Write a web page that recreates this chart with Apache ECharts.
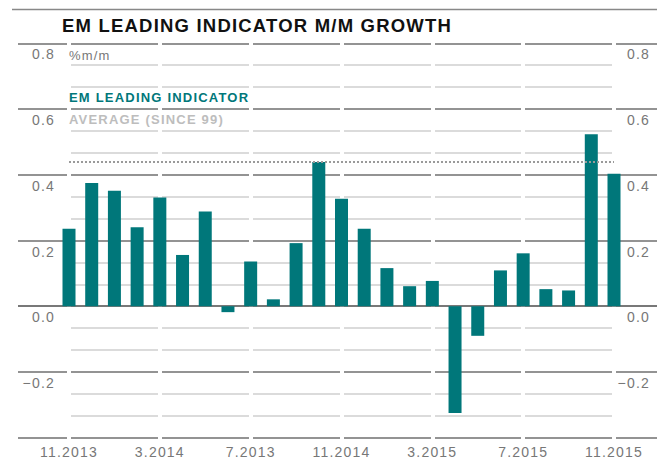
<!DOCTYPE html>
<html>
<head>
<meta charset="utf-8">
<script src="https://cdn.jsdelivr.net/npm/echarts@6/dist/echarts.min.js"></script>
<style>
  html, body { margin: 0; background: #fff; }
  #chart { width: 665px; height: 460px; }
  /* svg renderer, so the spaced-out caps can come from css */
  #chart text { letter-spacing: 1.2px; }
</style>
</head>
<body>
<div id="chart"></div>
<script>
const categories = [
  '11.2013', '12.2013',
  '1.2014', '2.2014', '3.2014', '4.2014', '5.2014', '6.2014',
  '7.2014', '8.2014', '9.2014', '10.2014', '11.2014', '12.2014',
  '1.2015', '2.2015', '3.2015', '4.2015', '5.2015', '6.2015',
  '7.2015', '8.2015', '9.2015', '10.2015', '11.2015'
];
const growth = [
  0.236, 0.375, 0.351, 0.240, 0.331, 0.156, 0.288, -0.018, 0.136, 0.021,
  0.192, 0.439, 0.327, 0.236, 0.116, 0.061, 0.077, -0.325, -0.090, 0.109,
  0.161, 0.052, 0.048, 0.523, 0.403
];
// labels as printed on the original (its third one says 7.2013)
const tickLabels = ['11.2013', '3.2014', '7.2013', '11.2014', '3.2015', '7.2015', '11.2015'];
const average = 0.441;
const yTicks = [-0.4, 0.8, 0.2];

const FONT = '"Liberation Sans", Arial, sans-serif';
const TEAL = '#00777a';
const GREY = '#777';

const chart = echarts.init(document.getElementById('chart'), null, { renderer: 'svg' });

function yLabel(v) {
  if (v < -0.35) return '';
  return v.toFixed(1).replace('-', '\u2212');
}

// white breaks in the gridlines under every fourth month
const gapLines = categories
  .filter((_, i) => i % 4 === 0)
  .map((c) => ({ xAxis: c }));

const quiet = { symbol: 'none', silent: true, label: { show: false }, emphasis: { disabled: true }, animation: false };

chart.setOption({
  animation: false,
  backgroundColor: '#fff',
  textStyle: { fontFamily: FONT },
  grid: [
    { left: 18, right: 8, top: 43.3, bottom: 22.3, outerBoundsMode: 'none' },
    { left: 69, right: 51, top: 43.3, bottom: 22.3, outerBoundsMode: 'none' }
  ],
  xAxis: [
    { gridIndex: 0, type: 'value', min: 0, max: 1, show: false },
    {
      gridIndex: 1,
      type: 'category',
      data: categories,
      boundaryGap: false,
      axisLine: { show: false },
      axisTick: { show: false },
      splitLine: { show: false },
      axisLabel: {
        interval: 3,
        margin: 7,
        color: GREY,
        fontSize: 14,
        fontFamily: FONT,
        formatter: (value, idx) => tickLabels[idx / 4]
      }
    }
  ],
  yAxis: [
    {
      gridIndex: 0,
      type: 'value',
      min: yTicks[0], max: yTicks[1], interval: yTicks[2],
      position: 'left',
      axisLine: { show: false },
      axisTick: { show: false },
      splitLine: { lineStyle: { color: '#6f6f6f', width: 1.5 } },
      axisLabel: {
        inside: true, margin: 37, align: 'right', verticalAlign: 'top',
        padding: [4, 0, 0, 0], color: GREY, fontSize: 14, fontFamily: FONT,
        formatter: yLabel
      }
    },
    {
      gridIndex: 0,
      type: 'value',
      min: yTicks[0], max: yTicks[1], interval: yTicks[2],
      position: 'right',
      axisLine: { show: false },
      axisTick: { show: false },
      splitLine: { show: false },
      axisLabel: {
        inside: true, margin: 7, align: 'right', verticalAlign: 'top',
        padding: [4, 0, 0, 0], color: GREY, fontSize: 14, fontFamily: FONT,
        formatter: yLabel
      }
    },
    { gridIndex: 1, type: 'value', min: yTicks[0], max: yTicks[1], show: false },
    {
      // thirds between the labelled lines
      gridIndex: 1,
      type: 'value',
      min: 0, max: 18, interval: 1,
      position: 'right',
      axisLine: { show: false },
      axisTick: { show: false },
      axisLabel: { show: false },
      splitLine: { lineStyle: { color: ['rgba(0,0,0,0)', '#cfcfcf', '#cfcfcf'], width: 1.5 } }
    }
  ],
  series: [
    {
      type: 'line', xAxisIndex: 1, yAxisIndex: 2, data: [], z: 1,
      markLine: { ...quiet, z: 1, data: gapLines, lineStyle: { color: '#fff', width: 4, type: 'solid', cap: 'square' } }
    },
    {
      type: 'line', xAxisIndex: 0, yAxisIndex: 0, data: [], z: 1,
      markLine: { ...quiet, z: 1.5, data: [{ yAxis: 0 }], lineStyle: { color: '#6f6f6f', width: 1.5, type: 'solid' } }
    },
    {
      name: 'EM leading indicator',
      type: 'bar', xAxisIndex: 1, yAxisIndex: 2, z: 2, clip: false,
      barWidth: 13,
      data: growth,
      itemStyle: { color: TEAL }
    },
    {
      type: 'line', xAxisIndex: 1, yAxisIndex: 2, data: [], z: 3,
      markLine: { ...quiet, z: 5, data: [{ yAxis: average }], lineStyle: { color: '#9a9a9a', width: 2, type: [2, 2] } }
    }
  ],
  graphic: [
    { type: 'line', z: 10, shape: { x1: 12, y1: 9.5, x2: 657, y2: 9.5 }, style: { stroke: '#888', lineWidth: 1.5 } },
    {
      type: 'text', z: 10,
      style: { x: 62, y: 25, text: 'EM LEADING INDICATOR M/M GROWTH', verticalAlign: 'middle', font: 'bold 18.5px ' + FONT, fill: '#111' }
    },
    {
      type: 'text', z: 10,
      style: { x: 69, y: 55, text: '%m/m', verticalAlign: 'middle', font: '13px ' + FONT, fill: GREY }
    },
    {
      type: 'text', z: 10,
      style: { x: 69, y: 97, text: 'EM LEADING INDICATOR', verticalAlign: 'middle', font: 'bold 13px ' + FONT, fill: TEAL }
    },
    {
      type: 'text', z: 10,
      style: { x: 69, y: 119, text: 'AVERAGE (SINCE 99)', verticalAlign: 'middle', font: 'bold 13px ' + FONT, fill: '#bdbdbd' }
    }
  ]
});
</script>
</body>
</html>
